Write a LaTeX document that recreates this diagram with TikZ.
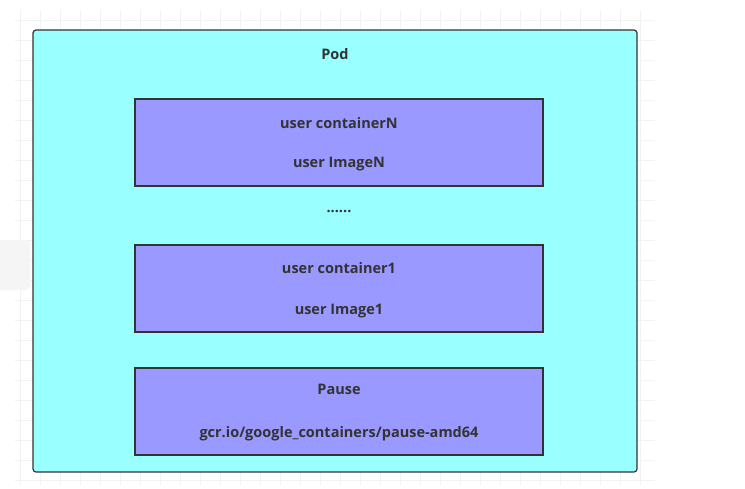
\documentclass[tikz,border=0pt]{standalone}
\usepackage{fontspec}
\setmainfont{Open Sans}[BoldFont={* Bold}]
\begin{document}
\begin{tikzpicture}[x=1pt,y=-1pt,
  inner/.style={draw=black!80,line width=1.2pt,fill=inbox},
  lbl/.style={font=\bfseries\fontsize{14.5}{16}\selectfont,text=black!80}]
\definecolor{podfill}{HTML}{99FFFF}
\definecolor{inbox}{HTML}{9999FF}
\useasboundingbox (0,0) rectangle (745,488);
\fill[white] (0,0) rectangle (745,488);
\foreach \x in {20,40,...,640} \draw[black!5] (\x,10) -- (\x,485);
\foreach \y in {20,40,...,480} \draw[black!5] (15,\y) -- (655,\y);
\fill[black!4,rounded corners=4pt] (-5,240) rectangle (30,290);
\draw[black!80,line width=1.2pt,fill=podfill,rounded corners=3pt] (33,30) rectangle (637,472);
\node[lbl] (pod) at (335,54) {Pod};
\draw[inner] (135,99) rectangle (543,186);
\node[lbl] (cn) at (339,123) {user containerN};
\node[lbl] (in) at (339,164) {user ImageN};
\node[lbl] (dots) at (339,211) {......};
\draw[inner] (135,245) rectangle (543,332);
\node[lbl] (c1) at (339,268) {user container1};
\node[lbl] (i1) at (339,311) {user Image1};
\draw[inner] (135,368) rectangle (543,455);
\node[lbl] (p) at (339,389) {Pause};
\node[lbl] (pi) at (339,434) {gcr.io/google\_containers/pause-amd64};
\end{tikzpicture}
\end{document}
